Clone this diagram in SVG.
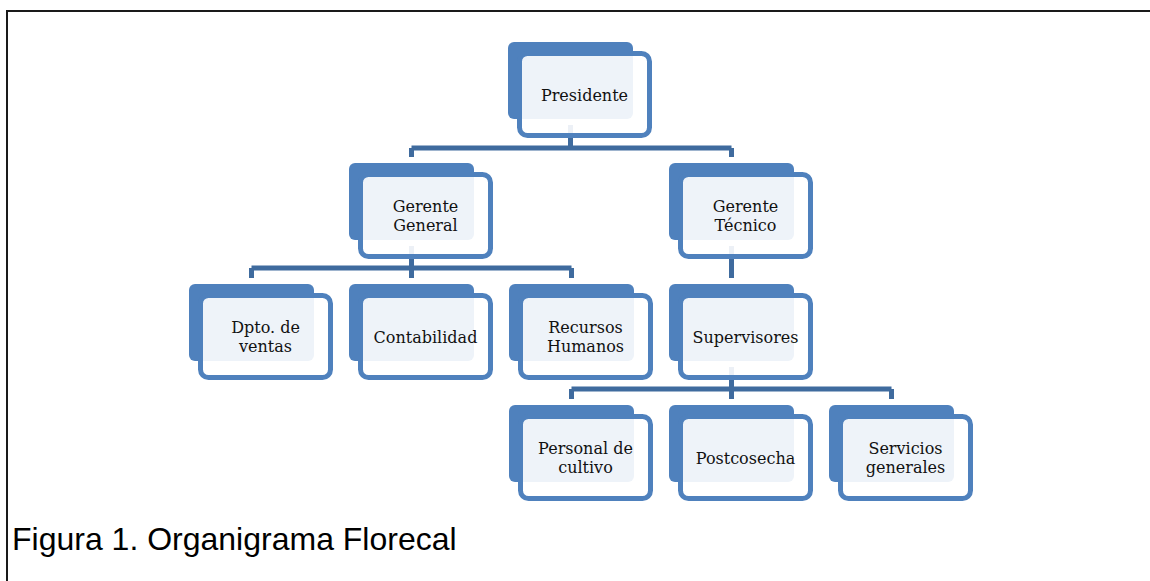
<svg xmlns="http://www.w3.org/2000/svg" width="1150" height="581" viewBox="0 0 1150 581">
<style>
.back{fill:#4F81BD}
.front{fill:#FFFFFF;fill-opacity:0.9;stroke:#4F81BD;stroke-width:5}
.lbl{font-family:"DejaVu Serif","Liberation Serif",serif;font-size:16px;fill:#111;text-anchor:middle}
.con{fill:none;stroke:#3F6B9E;stroke-width:5}
.cap{font-family:"Liberation Sans",Arial,sans-serif;font-size:32px;fill:#000}
</style>
<rect width="1150" height="581" fill="#fff"/>
<path d="M7 581 V11 H1150" fill="none" stroke="#1a1a1a" stroke-width="2"/>
<g id="connectors">
<path class="con" d="M570.5 125 V148 M411.5 148 H731.5 M411.5 148 V157 M731.5 148 V157"/>
<path class="con" d="M411.5 246 V268 M251.5 268 H571.5 M251.5 268 V278 M411.5 268 V278 M571.5 268 V278"/>
<path class="con" d="M731.5 246 V278"/>
<path class="con" d="M731.5 367 V389 M571.5 389 H891.5 M571.5 389 V399 M731.5 389 V399 M891.5 389 V399"/>
</g>
<g id="presidente">
<rect class="back" x="508" y="42" width="125" height="77" rx="6"/>
<rect class="front" x="519.5" y="53.5" width="130" height="82" rx="8"/>
<text class="lbl" x="584.5" y="101">Presidente</text>
</g>
<g id="gerente-general">
<rect class="back" x="349" y="163" width="125" height="77" rx="6"/>
<rect class="front" x="360.5" y="174.5" width="130" height="82" rx="8"/>
<text class="lbl" x="425.5" y="212">Gerente</text>
<text class="lbl" x="425.5" y="231">General</text>
</g>
<g id="gerente-tecnico">
<rect class="back" x="669" y="163" width="125" height="77" rx="6"/>
<rect class="front" x="680.5" y="174.5" width="130" height="82" rx="8"/>
<text class="lbl" x="745.5" y="212">Gerente</text>
<text class="lbl" x="745.5" y="231">Técnico</text>
</g>
<g id="dpto-ventas">
<rect class="back" x="189" y="284" width="125" height="77" rx="6"/>
<rect class="front" x="200.5" y="295.5" width="130" height="82" rx="8"/>
<text class="lbl" x="265.5" y="333">Dpto. de</text>
<text class="lbl" x="265.5" y="352">ventas</text>
</g>
<g id="contabilidad">
<rect class="back" x="349" y="284" width="125" height="77" rx="6"/>
<rect class="front" x="360.5" y="295.5" width="130" height="82" rx="8"/>
<text class="lbl" x="425.5" y="343">Contabilidad</text>
</g>
<g id="recursos-humanos">
<rect class="back" x="509" y="284" width="125" height="77" rx="6"/>
<rect class="front" x="520.5" y="295.5" width="130" height="82" rx="8"/>
<text class="lbl" x="585.5" y="333">Recursos</text>
<text class="lbl" x="585.5" y="352">Humanos</text>
</g>
<g id="supervisores">
<rect class="back" x="669" y="284" width="125" height="77" rx="6"/>
<rect class="front" x="680.5" y="295.5" width="130" height="82" rx="8"/>
<text class="lbl" x="745.5" y="343">Supervisores</text>
</g>
<g id="personal-cultivo">
<rect class="back" x="509" y="405" width="125" height="77" rx="6"/>
<rect class="front" x="520.5" y="416.5" width="130" height="82" rx="8"/>
<text class="lbl" x="585.5" y="454">Personal de</text>
<text class="lbl" x="585.5" y="473">cultivo</text>
</g>
<g id="postcosecha">
<rect class="back" x="669" y="405" width="125" height="77" rx="6"/>
<rect class="front" x="680.5" y="416.5" width="130" height="82" rx="8"/>
<text class="lbl" x="745.5" y="464">Postcosecha</text>
</g>
<g id="servicios-generales">
<rect class="back" x="829" y="405" width="125" height="77" rx="6"/>
<rect class="front" x="840.5" y="416.5" width="130" height="82" rx="8"/>
<text class="lbl" x="905.5" y="454">Servicios</text>
<text class="lbl" x="905.5" y="473">generales</text>
</g>
<text class="cap" x="12" y="550">Figura 1. Organigrama Florecal</text>
</svg>
